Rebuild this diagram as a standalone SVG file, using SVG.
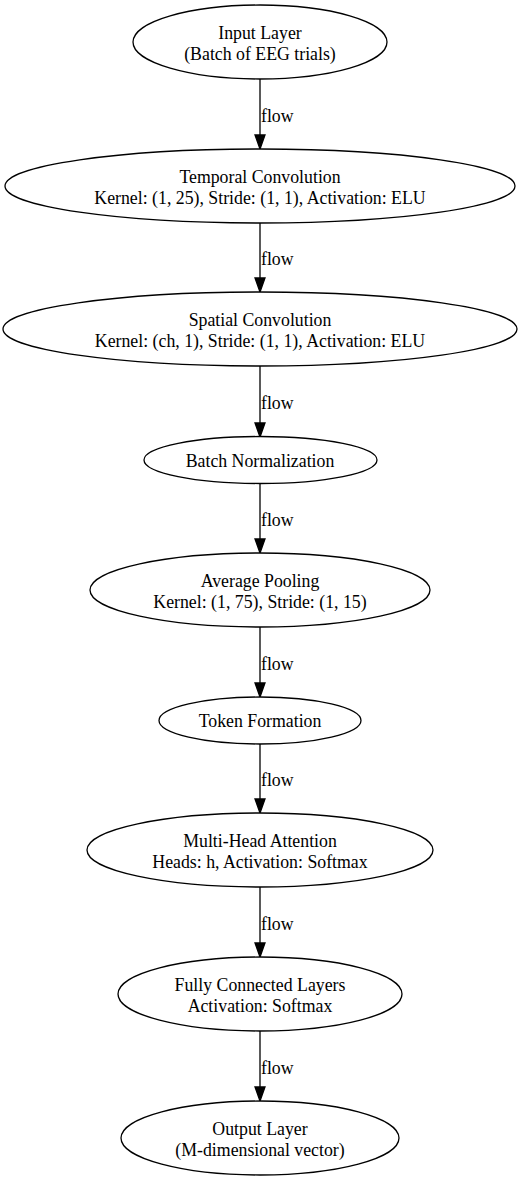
<svg xmlns="http://www.w3.org/2000/svg" width="520" height="1180" viewBox="0 0 520 1180">
<style>
.node ellipse{fill:#fff;stroke:#000;stroke-width:1.3}
text{font-family:"Liberation Serif","Times New Roman",serif;font-size:17.8px;fill:#000}
.node text{text-anchor:middle}
.edge line{stroke:#000;stroke-width:1.3}
.edge polygon{fill:#000;stroke:#000;stroke-width:1.3}
</style>
<rect width="520" height="1180" fill="#fff"/>
<g id="edges">
<g class="edge"><line x1="260" y1="79" x2="260" y2="135"/><polygon points="255,135 265,135 260,149"/><text x="261" y="121.5">flow</text></g>
<g class="edge"><line x1="260" y1="223" x2="260" y2="278"/><polygon points="255,278 265,278 260,292"/><text x="261" y="264.5">flow</text></g>
<g class="edge"><line x1="260" y1="366" x2="260" y2="423"/><polygon points="255,423 265,423 260,437"/><text x="261" y="409">flow</text></g>
<g class="edge"><line x1="260" y1="483" x2="260" y2="539"/><polygon points="255,539 265,539 260,553"/><text x="261" y="525.5">flow</text></g>
<g class="edge"><line x1="260" y1="627" x2="260" y2="683"/><polygon points="255,683 265,683 260,697"/><text x="261" y="669.5">flow</text></g>
<g class="edge"><line x1="260" y1="744" x2="260" y2="799"/><polygon points="255,799 265,799 260,813"/><text x="261" y="786">flow</text></g>
<g class="edge"><line x1="260" y1="887" x2="260" y2="943"/><polygon points="255,943 265,943 260,957"/><text x="261" y="929.5">flow</text></g>
<g class="edge"><line x1="260" y1="1031" x2="260" y2="1087"/><polygon points="255,1087 265,1087 260,1101"/><text x="261" y="1073.5">flow</text></g>
</g>
<g id="input" class="node"><ellipse cx="260" cy="42" rx="127" ry="37"/><text x="260" y="39.3">Input Layer</text><text x="260" y="59.5">(Batch of EEG trials)</text></g>
<g id="temporal" class="node"><ellipse cx="260" cy="186" rx="255" ry="37"/><text x="260" y="183.3">Temporal Convolution</text><text x="260" y="204.3">Kernel: (1, 25), Stride: (1, 1), Activation: ELU</text></g>
<g id="spatial" class="node"><ellipse cx="260" cy="329" rx="257" ry="37"/><text x="260" y="326.3">Spatial Convolution</text><text x="260" y="347.3">Kernel: (ch, 1), Stride: (1, 1), Activation: ELU</text></g>
<g id="batchnorm" class="node"><ellipse cx="260.5" cy="460" rx="116.5" ry="23.5"/><text x="260" y="466.5">Batch Normalization</text></g>
<g id="avgpool" class="node"><ellipse cx="260" cy="590" rx="170" ry="37"/><text x="260" y="587.3">Average Pooling</text><text x="260" y="608.3">Kernel: (1, 75), Stride: (1, 15)</text></g>
<g id="token" class="node"><ellipse cx="260" cy="720.5" rx="101" ry="23.5"/><text x="260" y="727">Token Formation</text></g>
<g id="mha" class="node"><ellipse cx="260" cy="850" rx="173" ry="37"/><text x="260" y="847.3">Multi-Head Attention</text><text x="260" y="868.3">Heads: h, Activation: Softmax</text></g>
<g id="fc" class="node"><ellipse cx="260" cy="994" rx="142" ry="37"/><text x="260" y="991.3">Fully Connected Layers</text><text x="260" y="1012.3">Activation: Softmax</text></g>
<g id="output" class="node"><ellipse cx="260" cy="1138" rx="139" ry="37"/><text x="260" y="1135.3">Output Layer</text><text x="260" y="1156.3">(M-dimensional vector)</text></g>
</svg>
